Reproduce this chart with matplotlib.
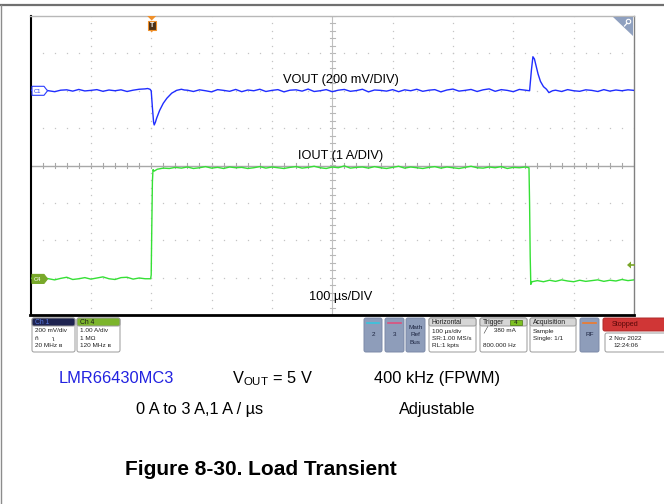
import matplotlib
matplotlib.use('Agg')
import matplotlib.pyplot as plt
from matplotlib.patches import FancyBboxPatch, Rectangle, Polygon, Circle
import numpy as np

plt.rcParams['font.family'] = ['Liberation Sans', 'DejaVu Sans']
plt.rcParams['mathtext.fontset'] = 'custom'
plt.rcParams['mathtext.rm'] = 'Liberation Sans'

# ---------------- data ----------------
time_per_div_us = 100
t_start_us, t_end_us = -200, 800
vout_scale_mv = 200          # mV / div
iout_scale_a = 1             # A / div
vout_offset_div = 2.0
iout_offset_div = -3.03

vout_t = [-200, -190, -180, -170, -160, -150, -140, -130, -120, -110,
          -100, -90, -80, -70, -60, -50, -40, -30, -20, -10,
          -6, -2, 0, 2, 4, 5, 7, 9, 14, 20,
          26, 34, 42, 50, 55, 60, 70, 80, 90, 100,
          110, 120, 130, 140, 150, 160, 170, 180, 190, 200,
          210, 220, 230, 240, 250, 260, 270, 280, 290, 300,
          310, 320, 330, 340, 350, 360, 370, 380, 390, 400,
          410, 420, 430, 440, 450, 460, 470, 480, 490, 500,
          510, 520, 530, 540, 550, 560, 570, 580, 590, 600,
          610, 620, 627, 630, 632.5, 635, 638, 641, 645, 650,
          655, 659, 665, 670, 680, 690, 700, 710, 720, 730,
          740, 750, 760, 770, 780, 790, 800]
vout_mv = [4, -3, 6, 0, -5, 3, 5, -2, 7, -1,
           2, 6, -3, 4, 0, 5, -4, 3, 8, 10,
           12, 8, 0, -90, -170, -183, -168, -147, -105, -67,
           -40, -13, 2, 8, 4, 3, -4, 5, 0, -6,
           6, 2, -3, 7, -5, 4, 0, 8, -4, 2,
           6, -6, 3, 5, -2, 9, -4, 0, 6, -5,
           3, 7, -3, 1, 8, -6, 4, 2, -2, 6,
           -5, 5, 0, 8, -3, 3, 6, -6, 4, 9,
           -2, 2, 7, -4, 5, 10, -3, 6, 2, -5,
           7, 3, 0, 110, 182, 170, 130, 90, 50, 22,
           8, -10, 0, 3, -4, 6, 0, -3, 5, 2,
           -4, 6, -2, 4, 0, 5, 2]

iout_t = [-200, -190, -180, -170, -160, -150, -140, -130, -120, -110,
          -100, -90, -80, -70, -60, -50, -40, -30, -20, -10,
          -1, 0, 1, 2, 3, 5, 10, 20, 30, 40,
          50, 60, 70, 80, 90, 100, 110, 120, 130, 140,
          150, 160, 170, 180, 190, 200, 210, 220, 230, 240,
          250, 260, 270, 280, 290, 300, 310, 320, 330, 340,
          350, 360, 370, 380, 390, 400, 410, 420, 430, 440,
          450, 460, 470, 480, 490, 500, 510, 520, 530, 540,
          550, 560, 570, 580, 590, 600, 610, 620,
          626, 627, 628, 629, 631, 640, 650, 660, 670, 680,
          690, 700, 710, 720, 730, 740, 750, 760, 770, 780,
          790, 800]
iout_a = [0.02, -0.02, 0.03, 0.0, -0.03, 0.01, 0.04, -0.02, 0.0, 0.03,
          -0.01, 0.02, 0.05, 0.0, -0.02, 0.03, 0.04, -0.01, 0.02, 0.0,
          0.0, 0.1, 1.4, 2.6, 2.92, 2.88, 2.93, 2.96, 2.95, 2.98,
          2.96, 2.99, 2.95, 2.97, 3.0, 2.96, 2.98, 2.95, 2.99, 2.97,
          2.98, 2.95, 2.97, 3.0, 2.96, 2.99, 2.97, 2.95, 2.98, 3.0,
          2.96, 2.98, 3.01, 2.97, 2.95, 2.99, 2.97, 3.02, 2.96, 2.98,
          2.99, 2.96, 3.0, 2.97, 2.95, 2.98, 3.01, 2.96, 2.99, 2.97,
          2.95, 2.98, 3.0, 2.96, 2.99, 2.97, 2.95, 2.98, 3.01, 2.97,
          2.96, 2.99, 2.97, 3.0, 2.95, 2.98, 2.97, 2.99,
          2.97, 2.0, 0.6, -0.15, -0.08, -0.05, -0.08, -0.04, -0.07, -0.03,
          -0.06, -0.08, -0.04, -0.07, -0.05, -0.03, -0.07, -0.04, -0.06, -0.02,
          -0.05, -0.03]

scope_labels = ["VOUT (200 mV/DIV)", "IOUT (1 A/DIV)", "100 µs/DIV"]
caption_line1 = ["LMR66430MC3", r"$\mathregular{V_{OUT}}$ = 5 V", "400 kHz (FPWM)"]
caption_line2 = ["0 A to 3 A,1 A / µs", "Adjustable"]
figure_title = "Figure 8-30. Load Transient"

# ---------------- figure ----------------
W, H = 664, 504
fig = plt.figure(figsize=(W / 100, H / 100), dpi=100)
fig.patch.set_facecolor('white')

L, T, R, B = 30.5, 16, 634, 315
ax = fig.add_axes([L / W, 1 - B / H, (R - L) / W, (B - T) / H])
ax.set_xlim(t_start_us, t_end_us)
ax.set_ylim(-4, 4)
ax.set_xticks([]); ax.set_yticks([])
ax.spines['left'].set_color('black'); ax.spines['left'].set_linewidth(1.5)
ax.spines['bottom'].set_color('black'); ax.spines['bottom'].set_linewidth(2)
ax.spines['top'].set_color('#b8b8b8'); ax.spines['top'].set_linewidth(1)
ax.spines['right'].set_color('#808080'); ax.spines['right'].set_linewidth(1)

# graticule dots
dot_c = '#c4c4c4'
ys_fine = np.arange(-4, 4.001, 0.2)
xs_fine = np.arange(t_start_us, t_end_us + 0.1, time_per_div_us / 5)
for gx in range(t_start_us + time_per_div_us, t_end_us, time_per_div_us):
    if gx == 300:
        continue
    ax.plot(np.full_like(ys_fine, gx), ys_fine, ls='none', marker='s', ms=0.9,
            color=dot_c, mec='none')
for gy in [-3, -2, -1, 1, 2, 3]:
    ax.plot(xs_fine, np.full_like(xs_fine, gy, dtype=float), ls='none', marker='s',
            ms=0.9, color=dot_c, mec='none')
# center crosshair with minor ticks
ax.axhline(0, color='#a8a8a8', lw=1, zorder=1)
ax.axvline(300, color='#c0c0c0', lw=0.8, zorder=1)
for x in xs_fine:
    ax.plot([x, x], [-0.06, 0.06], color='#a8a8a8', lw=0.8, zorder=1)
for y in ys_fine:
    ax.plot([296, 304], [y, y], color='#b8b8b8', lw=0.8, zorder=1)

# traces
vout_div = [v / vout_scale_mv + vout_offset_div for v in vout_mv]
iout_div = [i / iout_scale_a + iout_offset_div for i in iout_a]
ax.plot(vout_t, vout_div, color='#1f2dff', lw=1.0, zorder=3)
ax.plot(iout_t, iout_div, color='#35e035', lw=1.0, zorder=3)

# ---------------- decoration layer (pixel coords) ----------------
d = fig.add_axes([0, 0, 1, 1])
d.set_xlim(0, W); d.set_ylim(H, 0); d.axis('off')
d.patch.set_alpha(0)

d.plot([0, W], [5, 5], color='#707070', lw=1.6)
d.plot([1, 1], [5, H], color='#8c8c8c', lw=1.0)

# scope labels
d.text(341, 82.5, scope_labels[0], ha='center', va='baseline', fontsize=9.2)
d.text(341, 159, scope_labels[1], ha='center', va='baseline', fontsize=9.2)
d.text(341, 300, scope_labels[2], ha='center', va='baseline', fontsize=9.2)

# channel tags
c1y = 165.6 - vout_offset_div * 37.4
d.add_patch(Polygon([(32, c1y - 4.5), (44, c1y - 4.5), (47.5, c1y), (44, c1y + 4.5), (32, c1y + 4.5)],
                    closed=True, fc='white', ec='#2a3cff', lw=0.8, zorder=5))
d.text(37.5, c1y + 0.3, 'C1', color='#2a3cff', fontsize=4.2, ha='center', va='center', zorder=6)
c4y = 165.6 - iout_offset_div * 37.4
d.add_patch(Polygon([(32, c4y - 4.5), (44, c4y - 4.5), (47.5, c4y), (44, c4y + 4.5), (32, c4y + 4.5)],
                    closed=True, fc='#78a82a', ec='#78a82a', lw=0.8, zorder=5))
d.text(37.5, c4y + 0.3, 'C4', color='white', fontsize=4.2, ha='center', va='center', zorder=6)

# trigger position marker
tx = 151.7
d.add_patch(Polygon([(tx - 4.5, 16), (tx + 4.5, 16), (tx, 20.5)], closed=True, fc='#f0902a', ec='none', zorder=6))
d.add_patch(Rectangle((tx - 4, 20.5), 8, 9, fc='#4a3018', ec='#f0902a', lw=0.8, zorder=6))
d.text(tx, 25.3, 'T', color='white', fontsize=5, ha='center', va='center', zorder=7, fontweight='bold')
d.add_patch(Polygon([(tx - 2, 30), (tx + 2, 30), (tx, 32.5)], closed=True, fc='#f0902a', ec='none', zorder=6))

# trigger level marker
d.add_patch(Polygon([(627, 265), (631, 261.5), (631, 268.5)], closed=True, fc='#7aa62a', ec='none', zorder=6))
d.plot([630, 634], [265, 265], color='#7aa62a', lw=1.2, zorder=6)

# zoom icon corner
d.add_patch(Polygon([(613, 17), (633, 17), (633, 36)], closed=True, fc='#8fa0bf', ec='none', zorder=6))
d.add_patch(Circle((628.5, 21.5), 2.2, fc='none', ec='white', lw=0.8, zorder=7))
d.plot([627, 624.5], [23.2, 26], color='white', lw=0.9, zorder=7)

# ---------------- status bar ----------------
fs = 4.6
def box(x0, x1, y0, y1, fc='white', ec='#9a9a9a'):
    d.add_patch(FancyBboxPatch((x0, y0), x1 - x0, y1 - y0,
                               boxstyle='round,pad=0,rounding_size=2', fc=fc, ec=ec, lw=0.7, zorder=4))

def header_box(x0, x1, title, hfc, htc, lines, hh=8, bold=False):
    box(x0, x1, 318, 352)
    d.add_patch(FancyBboxPatch((x0, 318), x1 - x0, hh, boxstyle='round,pad=0,rounding_size=2',
                               fc=hfc, ec='#9a9a9a', lw=0.7, zorder=5))
    d.text(x0 + 3, 318 + hh / 2 + 0.3, title, color=htc, fontsize=fs + 0.3, va='center', ha='left', zorder=6)
    for i, s in enumerate(lines):
        d.text(x0 + 3, 331 + i * 7.3, s, color='#202020', fontsize=fs, va='center', ha='left', zorder=6)

header_box(32, 75, 'Ch 1', '#1e2350', '#5577dd', ['200 mV/div', 'ñ        ʅ', '20 MHz ʙ'])
header_box(77, 120, 'Ch 4', '#7cb52c', '#1a1a1a', ['1.00 A/div', '1 MΩ', '120 MHz ʙ'])

sq_fc = '#8e9dba'
def side_box(x0, x1, label_lines, stripe=None):
    box(x0, x1, 318, 352, fc=sq_fc, ec='#7c8aa8')
    if stripe:
        d.plot([x0 + 3, x1 - 3], [323, 323], color=stripe, lw=1.2, zorder=6)
    n = len(label_lines)
    for i, s in enumerate(label_lines):
        yy = 335 + (i - (n - 1) / 2) * 7.2
        d.text((x0 + x1) / 2, yy, s, color='#1c2440', fontsize=fs, ha='center', va='center', zorder=6)

side_box(364, 382, ['2'], stripe='#34c6e0')
side_box(385, 404, ['3'], stripe='#e0507c')
side_box(406, 425, ['Math', 'Ref', 'Bus'])
header_box(429, 476, 'Horizontal', '#d6d6d6', '#202020', ['100 µs/div', 'SR:1.00 MS/s', 'RL:1 kpts'])
header_box(480, 527, 'Trigger', '#d6d6d6', '#202020', ['╱    380 mA', '', '800.000 Hz'])
d.add_patch(Rectangle((510, 319.5), 12, 5.5, fc='#7cc022', ec='#4a7a10', lw=0.5, zorder=6))
d.text(516, 322.5, '4', fontsize=fs, ha='center', va='center', color='#1a1a1a', zorder=7)
header_box(530, 576, 'Acquisition', '#d6d6d6', '#202020', ['Sample', 'Single: 1/1'])
side_box(580, 599, ['RF'], stripe='#f07a2a')
d.add_patch(FancyBboxPatch((603, 318), 70, 13, boxstyle='round,pad=0,rounding_size=2',
                           fc='#d03636', ec='#b02a2a', lw=0.7, zorder=5))
d.text(612, 324.8, 'Stopped', fontsize=fs + 0.6, color='#5a0808', va='center', ha='left', zorder=6)
box(605, 673, 333, 352)
d.text(609, 338.5, '2 Nov 2022', fontsize=fs, color='#202020', va='center', ha='left', zorder=6)
d.text(613, 345.5, '12:24:06', fontsize=fs, color='#202020', va='center', ha='left', zorder=6)

# ---------------- captions ----------------
cap_fs = 11.8
d.text(116, 383, caption_line1[0], color='#2222e0', fontsize=cap_fs, ha='center', va='baseline')
d.text(272, 383, caption_line1[1], color='black', fontsize=cap_fs, ha='center', va='baseline')
d.text(437, 383, caption_line1[2], color='black', fontsize=cap_fs, ha='center', va='baseline')
d.text(200, 414, caption_line2[0], color='black', fontsize=cap_fs, ha='center', va='baseline')
d.text(437, 414, caption_line2[1], color='black', fontsize=cap_fs, ha='center', va='baseline')
d.text(261, 475, figure_title, color='black', fontsize=15, fontweight='bold', ha='center', va='baseline')

fig.savefig('out.png', dpi=100)
